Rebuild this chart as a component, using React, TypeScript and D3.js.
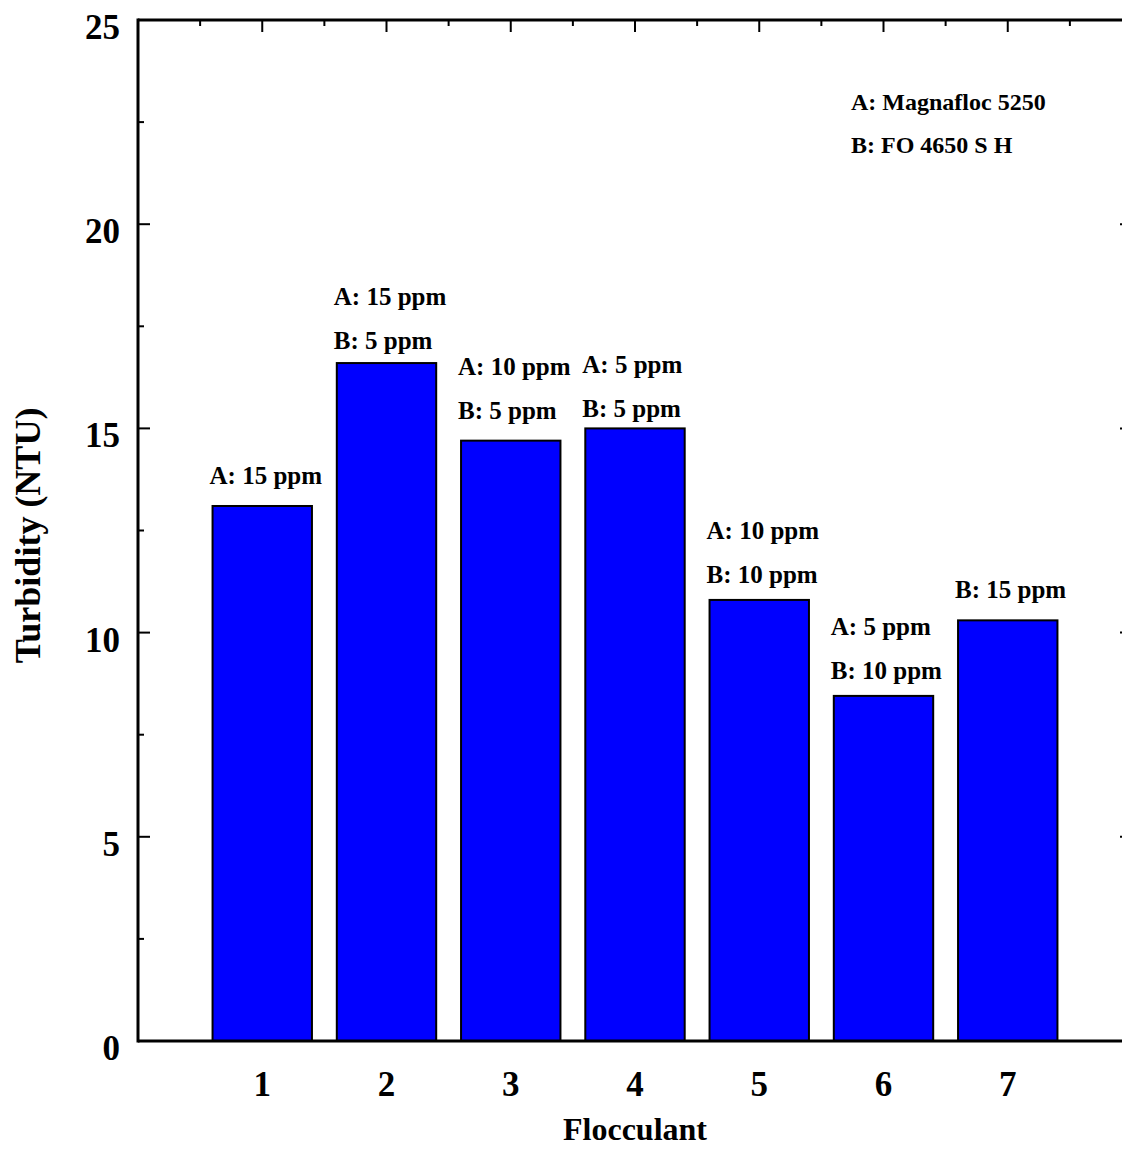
import React from "react";
import * as d3 from "d3";

// Flocculant trials and measured turbidity
const flocculants = [1, 2, 3, 4, 5, 6, 7];
const turbidity = [13.1, 16.6, 14.7, 15.0, 10.8, 8.45, 10.3];
const doseA = ["A: 15 ppm", "A: 15 ppm", "A: 10 ppm", "A: 5 ppm", "A: 10 ppm", "A: 5 ppm", ""];
const doseB = ["", "B: 5 ppm", "B: 5 ppm", "B: 5 ppm", "B: 10 ppm", "B: 10 ppm", "B: 15 ppm"];
const yTicks = [0, 5, 10, 15, 20, 25];
const legendLines = ["A: Magnafloc 5250", "B: FO 4650 S H"];

// Vertical gap between each bar top and its lowest label line (layout only)
const labelGap = [22, 14, 22, 11, 17, 17, 22];

const W = 1122;
const H = 1162;
const FONT = "'Liberation Serif', 'Times New Roman', serif";

export default function App() {
  const x = d3.scaleLinear().domain([0, 8]).range([138, 1132]);
  const y = d3.scaleLinear().domain([0, 25]).range([1041, 20]);
  const step = x(1) - x(0);
  const barW = step * 0.8;

  const xMajor = d3.range(1, 9);
  const xMinor = d3.range(0.5, 8, 1);
  const yMinor = d3.range(2.5, 25, 5);

  return (
    <svg
      width={W}
      height={H}
      style={{ position: "absolute", left: 0, top: 0, background: "#fff" }}
      fontFamily={FONT}
      fontWeight="bold"
    >
      {/* bars */}
      {flocculants.map((f, i) => (
        <rect
          key={f}
          x={x(f) - barW / 2}
          y={y(turbidity[i])}
          width={barW}
          height={y(0) - y(turbidity[i])}
          fill="#0000ff"
          stroke="#000"
          strokeWidth={2}
        />
      ))}

      {/* dose labels above bars */}
      {flocculants.map((f, i) => {
        const left = x(f) - barW / 2 - 3;
        const base = y(turbidity[i]) - labelGap[i];
        const lines = [doseA[i], doseB[i]].filter((s) => s !== "");
        return lines.map((s, j) => (
          <text
            key={`${f}-${j}`}
            x={left}
            y={base - (lines.length - 1 - j) * 44}
            fontSize={25}
            textAnchor="start"
          >
            {s}
          </text>
        ));
      })}

      {/* frame */}
      <line x1={x(0)} x2={x(8)} y1={y(25)} y2={y(25)} stroke="#000" strokeWidth={3} />
      <line x1={x(0)} x2={x(8)} y1={y(0)} y2={y(0)} stroke="#000" strokeWidth={3} />
      <line x1={x(0)} x2={x(0)} y1={y(25) - 1.5} y2={y(0) + 1.5} stroke="#000" strokeWidth={3} />
      <line x1={x(8)} x2={x(8)} y1={y(25) - 1.5} y2={y(0) + 1.5} stroke="#000" strokeWidth={3} />

      {/* top ticks */}
      {xMajor.map((v) => (
        <line key={`tM${v}`} x1={x(v)} x2={x(v)} y1={y(25)} y2={y(25) + 12} stroke="#000" strokeWidth={2} />
      ))}
      {xMinor.map((v) => (
        <line key={`tm${v}`} x1={x(v)} x2={x(v)} y1={y(25)} y2={y(25) + 6} stroke="#000" strokeWidth={2} />
      ))}

      {/* left and right ticks */}
      {yTicks.map((v) => (
        <g key={`yM${v}`}>
          <line x1={x(0)} x2={x(0) + 12} y1={y(v)} y2={y(v)} stroke="#000" strokeWidth={2} />
          <line x1={x(8)} x2={x(8) - 12} y1={y(v)} y2={y(v)} stroke="#000" strokeWidth={2} />
        </g>
      ))}
      {yMinor.map((v) => (
        <g key={`ym${v}`}>
          <line x1={x(0)} x2={x(0) + 6} y1={y(v)} y2={y(v)} stroke="#000" strokeWidth={2} />
          <line x1={x(8)} x2={x(8) - 6} y1={y(v)} y2={y(v)} stroke="#000" strokeWidth={2} />
        </g>
      ))}

      {/* y tick labels */}
      {yTicks.map((v) => (
        <text key={`yl${v}`} x={120} y={y(v) + 19} fontSize={35} textAnchor="end">
          {v}
        </text>
      ))}

      {/* x tick labels */}
      {flocculants.map((f) => (
        <text key={`xl${f}`} x={x(f)} y={1096} fontSize={35} textAnchor="middle">
          {f}
        </text>
      ))}

      {/* axis titles */}
      <text x={635} y={1140} fontSize={32} textAnchor="middle">
        Flocculant
      </text>
      <text
        transform={`translate(40, ${y(12.5) + 5}) rotate(-90)`}
        fontSize={36}
        textAnchor="middle"
      >
        Turbidity (NTU)
      </text>

      {/* legend */}
      {legendLines.map((s, i) => (
        <text key={s} x={851} y={110 + i * 43} fontSize={24}>
          {s}
        </text>
      ))}
    </svg>
  );
}
